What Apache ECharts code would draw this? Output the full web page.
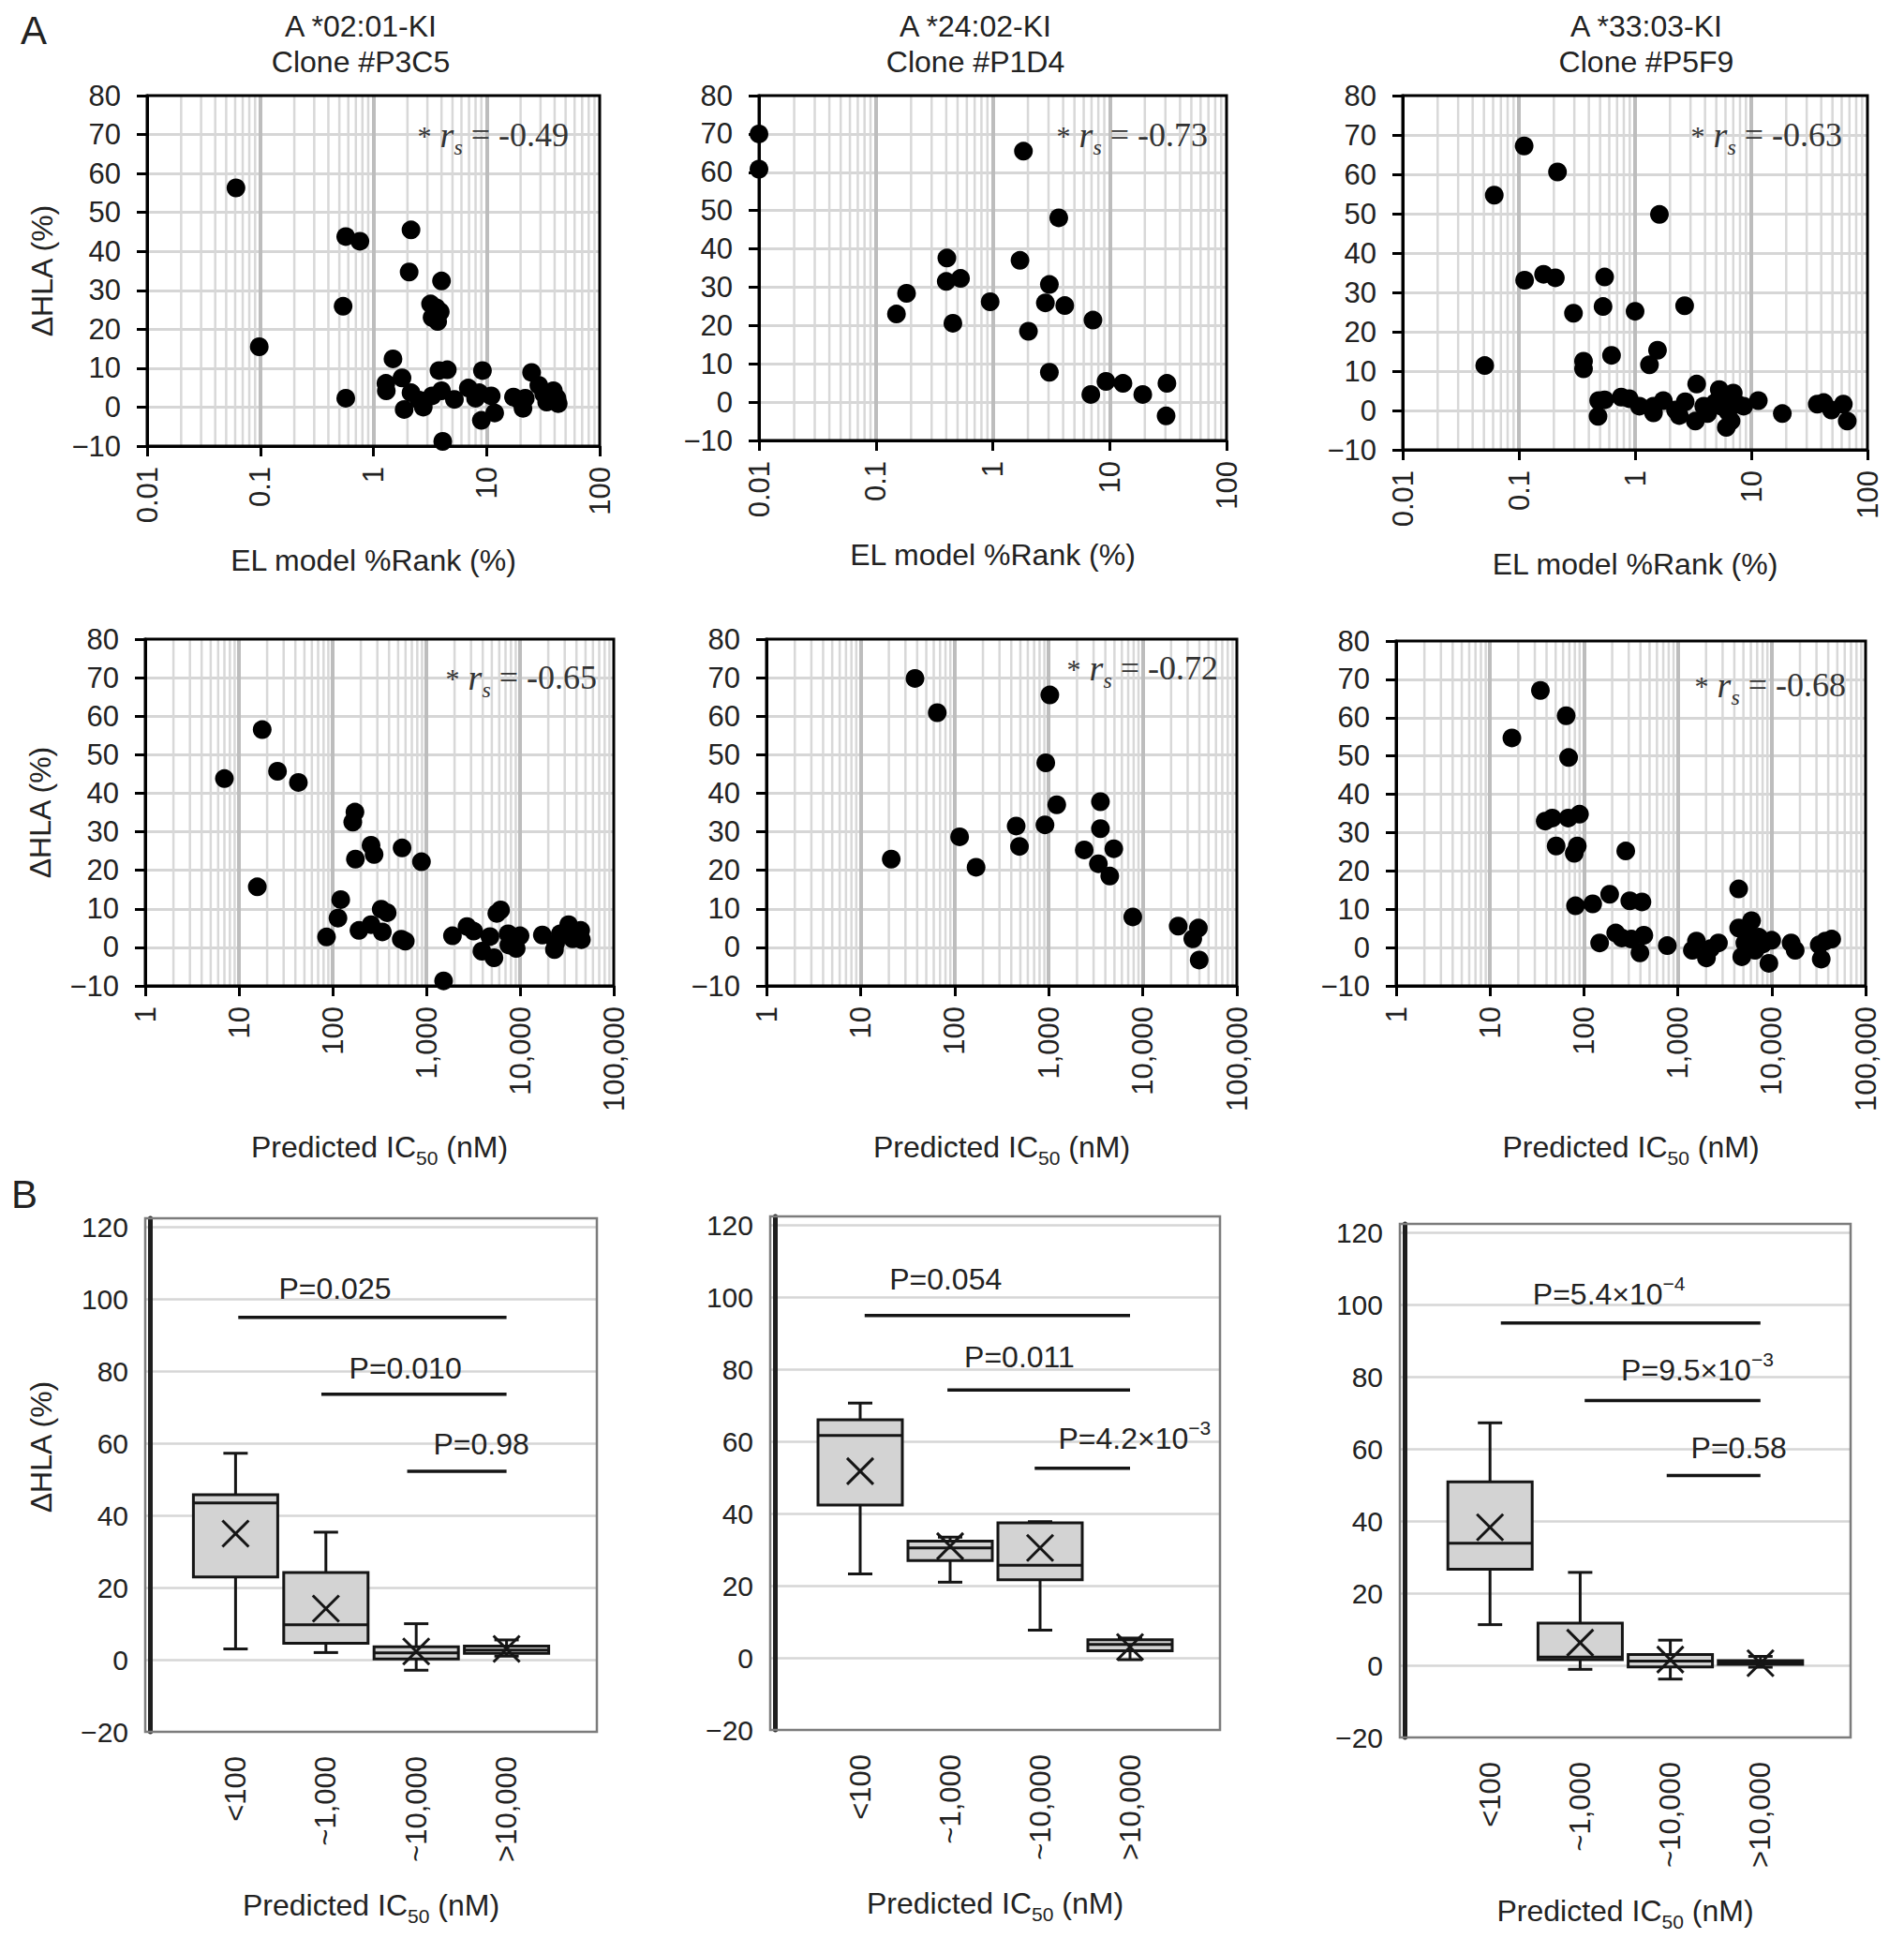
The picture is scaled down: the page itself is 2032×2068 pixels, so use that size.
<!DOCTYPE html>
<html>
<head>
<meta charset="utf-8">
<script src="https://cdn.jsdelivr.net/npm/echarts@6.0.0/dist/echarts.min.js"></script>
<style>
html,body{margin:0;padding:0;background:#ffffff;}
#chart{width:2032px;height:2068px;}
</style>
</head>
<body>
<div id="chart"></div>
<script>
// ================= DATA =================
const alleles = ['A *02:01-KI', 'A *24:02-KI', 'A *33:03-KI'];
const clones = ['Clone #P3C5', 'Clone #P1D4', 'Clone #P5F9'];
const rsElRank = ['-0.49', '-0.73', '-0.63'];
const rsIC50 = ['-0.65', '-0.72', '-0.68'];

const elRankTicksRange = [0.01, 100];
const ic50TicksRange = [1, 100000];

// [EL %Rank, ΔHLA]
const elRankP3C5 = [[0.061,56.3],[0.098,15.5],[0.57,43.8],[0.76,42.6],[0.54,25.9],[0.57,2.3],[2.15,45.5],[2.07,34.7],[4.0,32.4],[3.2,26.5],[3.6,25.5],[3.9,24.5],[3.3,23.0],[3.7,22.0],[1.49,12.4],[1.29,6.1],[1.3,4.2],[1.79,7.5],[1.87,-0.6],[2.15,3.7],[2.54,1.8],[2.76,0.0],[3.3,2.9],[4.0,4.2],[3.8,9.4],[4.5,9.6],[5.2,2.0],[4.1,-8.8],[6.9,4.9],[8.6,3.7],[8.0,2.3],[9.2,9.4],[9.0,-3.4],[11.0,2.9],[11.8,-1.5],[17.3,2.6],[19.5,1.8],[21.0,-0.3],[22.0,2.3],[25.0,8.9],[29.0,5.6],[32.0,3.4],[39.0,4.2],[42.0,2.3],[34.0,1.3],[43.0,0.9]];
const elRankP1D4 = [[0.01,70.0],[0.01,60.8],[1.83,65.5],[3.67,48.1],[1.71,37.0],[0.405,37.6],[0.40,31.5],[0.53,32.3],[0.183,28.4],[0.150,23.0],[0.456,20.6],[0.95,26.2],[3.05,30.7],[2.82,25.9],[4.13,25.2],[2.02,18.5],[3.05,7.8],[7.2,21.4],[6.9,2.0],[9.3,5.4],[13.0,4.9],[19.2,2.0],[30.9,4.9],[30.4,-3.6]];
const elRankP5F9 = [[0.0508,11.4],[0.0614,54.7],[0.111,67.2],[0.112,33.1],[0.163,34.6],[0.206,33.7],[0.215,60.6],[0.295,24.7],[0.36,12.5],[0.36,10.6],[0.547,33.9],[0.53,26.4],[0.627,14.0],[0.486,2.5],[0.547,2.7],[0.48,-1.5],[1.0,25.2],[1.62,49.8],[1.56,15.3],[1.33,11.6],[2.67,26.6],[3.39,6.7],[0.76,3.4],[0.89,3.0],[1.09,1.1],[1.44,1.1],[1.44,-0.6],[1.75,2.5],[2.23,0.1],[2.4,-1.3],[2.7,2.2],[3.3,-2.7],[3.9,1.1],[4.2,-0.8],[5.3,5.3],[5.7,3.4],[5.5,1.1],[6.1,-4.3],[6.7,-2.7],[7.0,4.4],[7.6,1.6],[6.3,-0.3],[8.6,1.1],[11.5,2.5],[18.5,-0.8],[37,1.6],[42,2.0],[49,0.1],[62,1.6],[67,-2.7],[4.9,2.0],[6.1,2.5]];

// [Predicted IC50 (nM), ΔHLA]
const ic50P3C5 = [[7.0,43.8],[17.7,56.5],[15.7,15.7],[25.8,45.7],[43.1,42.8],[173,35.1],[164,32.5],[175,22.9],[257,26.5],[277,24.1],[551,25.8],[887,22.2],[122,12.4],[114,7.6],[86,2.7],[191,4.4],[257,5.9],[339,4.0],[330,9.9],[382,9.0],[540,2.1],[596,1.6],[1528,-8.7],[1900,3.0],[2716,5.4],[3200,4.2],[3917,-1.0],[4775,2.8],[5270,-2.7],[5652,8.8],[6200,9.7],[7460,3.5],[7600,0.6],[9100,-0.3],[10000,3.0],[17300,3.2],[23300,-0.6],[26900,3.5],[33000,5.9],[36500,2.2],[44400,4.4],[45200,2.0],[24000,1.1]];
const ic50P1D4 = [[21.2,22.9],[37.9,69.8],[65.4,60.9],[113,28.7],[169,20.8],[451,31.5],[489,26.2],[1028,65.5],[931,47.9],[913,31.8],[1218,37.0],[2386,25.3],[3548,37.8],[3548,30.8],[3374,21.7],[4456,18.5],[4920,25.6],[7830,7.9],[23800,5.5],[34000,2.2],[39000,5.0],[39800,-3.3]];
const ic50P5F9 = [[17.1,54.7],[34.4,67.1],[64.7,60.5],[68.7,49.6],[38.7,33.0],[46,33.8],[68,33.8],[89.7,34.8],[50.6,26.5],[78.9,24.6],[85,26.5],[81.3,10.9],[124,11.4],[188,13.9],[279,25.2],[308,12.2],[415,11.9],[147,1.2],[218,3.8],[253,2.5],[320,2.2],[435,3.2],[395,-1.4],[773,0.5],[1428,-0.7],[1580,1.7],[2018,-2.7],[2230,-0.3],[2710,1.2],[4450,15.3],[4450,5.1],[4800,-2.4],[5180,1.2],[6100,7.0],[5700,3.6],[6300,0.2],[7300,2.7],[8500,1.5],[9330,-4.1],[10000,1.9],[16100,1.2],[17800,-0.7],[32100,0.7],[33700,-3.0],[37300,1.7],[43600,2.2],[6650,-0.7],[8000,0.9]];

// Box plots: [min, q1, median, q3, max, mean] per category
const boxCategories = ['<100', '~1,000', '~10,000', '>10,000'];
const boxP3C5 = [[3.0,23.0,43.5,45.8,57.3,35.0],[2.0,4.6,9.7,24.2,35.4,14.2],[-2.9,0.2,1.9,3.6,10.0,2.3],[1.0,1.8,2.7,3.8,5.5,3.0]];
const boxP1D4 = [[23.3,42.4,61.7,66.1,70.7,51.8],[21.0,27.0,30.5,32.4,33.5,31.0],[7.7,21.7,25.7,37.5,37.8,30.5],[-0.5,2.0,3.7,5.0,5.5,3.0]];
const boxP5F9 = [[11.3,26.7,33.9,50.9,67.3,38.3],[-1.1,1.6,2.3,11.7,25.8,6.3],[-3.8,-0.4,1.2,3.0,7.0,1.6],[-0.5,0.3,0.7,1.3,2.5,0.6]];
const pValuesP3C5 = ['P=0.025', 'P=0.010', 'P=0.98'];
const pValuesP1D4 = ['P=0.054', 'P=0.011', 'P=4.2×10^-3'];
const pValuesP5F9 = ['P=5.4×10^-4', 'P=9.5×10^-3', 'P=0.58'];

// ================= LAYOUT / STYLE =================
const FONT = '"Liberation Sans", Arial, Helvetica, sans-serif';
const SERIF = '"Liberation Serif", "Times New Roman", serif';
const TXT = '#222222';
const layout = {
  el: [{left:157,top:102,width:483,height:374},{left:810,top:102,width:499,height:368},{left:1497,top:102,width:496,height:378}],
  ic: [{left:155,top:682,width:500,height:370},{left:818,top:682,width:502,height:370},{left:1490,top:684,width:501,height:368}],
  box: [{left:155,top:1300,width:482,height:548},{left:822,top:1298,width:480,height:548},{left:1494,top:1306,width:481,height:548}],
  titleX: [385, 1041, 1757],
  rsEl: [[607,144],[1289,144],[1966,144]],
  rsIc: [[637,723],[1300,713],[1970,731]],
  bars: [
    {starts:[1.03,1.95,2.9], end:4.0, levels:[95,73.7,52.3], tx:[2.1,2.88,3.72], ty:[103,81,59.8]},
    {starts:[1.05,1.97,2.94], end:4.0, levels:[95,74.3,52.6], tx:[1.95,2.77,4.05], ty:[105,83.5,61]},
    {starts:[1.12,2.05,2.96], end:4.0, levels:[95,73.5,52.7], tx:[2.32,3.3,3.76], ty:[103,82,60.3]}
  ]
};

const grids = [], xAxes = [], yAxes = [], series = [], graphics = [];

function minorLogValues(min, max) {
  const out = [];
  for (let d = min; d < max * 0.999; d *= 10) {
    for (let k = 2; k <= 9; k++) out.push(+(d * k).toPrecision(6));
  }
  return out;
}
const minusFmt = v => (v < 0 ? '\u2212' + Math.abs(v) : String(v));
const subName = 'Predicted IC{sub|50} (nM)';
const nameStyle = {
  fontSize: 32, color: TXT, fontFamily: FONT, lineHeight: 44,
  rich: { sub: { fontSize: 21, color: TXT, fontFamily: FONT, verticalAlign: 'bottom', lineHeight: 44 } }
};

function addScatterPanel(g, range, pts, isIC, showYName, xName, xNameGap) {
  const gi = grids.length;
  grids.push(Object.assign({ show: true, borderColor: '#000', borderWidth: 3, backgroundColor: 'transparent', z: 3, outerBoundsMode: 'none', containLabel: false }, g));
  const xi = xAxes.length, yi = yAxes.length;
  xAxes.push({
    gridIndex: gi, type: 'log', logBase: 10, min: range[0], max: range[1],
    axisLine: { show: true, onZero: false, lineStyle: { color: '#000', width: 3 } },
    axisTick: { show: true, length: 11, lineStyle: { color: '#000', width: 3 } },
    minorTick: { show: false },
    axisLabel: {
      rotate: 90, margin: 22, fontSize: 31, color: TXT, fontFamily: FONT,
      formatter: v => isIC ? Math.round(v).toLocaleString('en-US') : String(+(+v).toPrecision(4))
    },
    splitLine: { show: true, showMinLine: false, showMaxLine: false, lineStyle: { color: '#bdbdbd', width: 4 } },
    name: xName, nameLocation: 'middle', nameGap: xNameGap, nameMoveOverlap: false,
    nameTextStyle: nameStyle
  });
  yAxes.push({
    gridIndex: gi, type: 'value', min: -10, max: 80, interval: 10,
    axisLine: { show: true, onZero: false, lineStyle: { color: '#000', width: 3 } },
    axisTick: { show: true, length: 11, lineStyle: { color: '#000', width: 3 } },
    axisLabel: { fontSize: 31, color: TXT, fontFamily: FONT, margin: 28, formatter: minusFmt },
    splitLine: { show: true, showMinLine: false, showMaxLine: false, lineStyle: { color: '#d6d6d6', width: 3 } },
    name: showYName ? '\u0394HLA (%)' : '', nameLocation: 'middle', nameGap: 96, nameRotate: 90, nameMoveOverlap: false,
    nameTextStyle: { fontSize: 32, color: TXT, fontFamily: FONT }
  });
  // minor log gridlines (2..9 within each decade)
  series.push({
    type: 'custom', xAxisIndex: xi, yAxisIndex: yi, silent: true, z: 1,
    data: minorLogValues(range[0], range[1]).map(v => [v, 0]),
    encode: { x: 0, y: 1 },
    renderItem: (params, api) => {
      const p1 = api.coord([api.value(0), -10]);
      const p2 = api.coord([api.value(0), 80]);
      return { type: 'line', shape: { x1: p1[0], y1: p1[1], x2: p2[0], y2: p2[1] }, style: { stroke: '#d8d8d8', lineWidth: 2.5 } };
    }
  });
  series.push({
    type: 'scatter', xAxisIndex: xi, yAxisIndex: yi, data: pts, symbol: 'circle', symbolSize: 20,
    itemStyle: { color: '#000', opacity: 1 }, z: 5, clip: false, silent: true
  });
}

function addBoxPanel(g, stats, pvals, bars, showYName) {
  const gi = grids.length;
  grids.push(Object.assign({ show: true, borderColor: '#7c7c7c', borderWidth: 2.5, backgroundColor: 'transparent', z: 3, outerBoundsMode: 'none', containLabel: false }, g));
  xAxes.push({
    gridIndex: gi, type: 'category', data: [''].concat(boxCategories, ['']), boundaryGap: false,
    axisLine: { show: false }, axisTick: { show: false }, splitLine: { show: false },
    axisLabel: { rotate: 90, interval: 0, margin: 26, fontSize: 31, color: TXT, fontFamily: FONT },
    name: subName, nameLocation: 'middle', nameGap: 163, nameMoveOverlap: false, nameTextStyle: nameStyle
  });
  const xv = xAxes.length;
  xAxes.push({ gridIndex: gi, type: 'value', min: 0, max: 5, show: false });
  const yi = yAxes.length;
  yAxes.push({
    gridIndex: gi, type: 'value', min: -20, max: 122.5, interval: 20, offset: -5,
    axisLine: { show: true, onZero: false, lineStyle: { color: '#1e1e1e', width: 5 } },
    axisTick: { show: false },
    axisLabel: { fontSize: 30, color: TXT, fontFamily: FONT, margin: 23, showMaxLabel: false, formatter: minusFmt },
    splitLine: { show: true, showMinLine: false, showMaxLine: false, lineStyle: { color: '#d6d6d6', width: 2.5 } },
    name: showYName ? '\u0394HLA (%)' : '', nameLocation: 'middle', nameGap: 100, nameRotate: 90, nameMoveOverlap: false,
    nameTextStyle: { fontSize: 32, color: TXT, fontFamily: FONT, padding: [0, 0, 0, 60] }
  });
  // boxes
  series.push({
    type: 'custom', xAxisIndex: xv, yAxisIndex: yi, silent: true, z: 5,
    data: stats.map((s, i) => [i + 1].concat(s)),
    encode: { x: 0, y: [1, 2, 3, 4, 5] },
    renderItem: (params, api) => {
      const x = api.value(0);
      const pMin = api.coord([x, api.value(1)]);
      const pQ1 = api.coord([x, api.value(2)]);
      const pMed = api.coord([x, api.value(3)]);
      const pQ3 = api.coord([x, api.value(4)]);
      const pMax = api.coord([x, api.value(5)]);
      const pMean = api.coord([x, api.value(6)]);
      const cx = pMin[0], hw = 45, cw = 13, xs = 14;
      const st = { stroke: '#151515', lineWidth: 3, fill: null };
      const ln = (x1, y1, x2, y2) => ({ type: 'line', shape: { x1, y1, x2, y2 }, style: st });
      return {
        type: 'group', children: [
          ln(cx, pQ3[1], cx, pMax[1]), ln(cx - cw, pMax[1], cx + cw, pMax[1]),
          ln(cx, pQ1[1], cx, pMin[1]), ln(cx - cw, pMin[1], cx + cw, pMin[1]),
          { type: 'rect', shape: { x: cx - hw, y: pQ3[1], width: 2 * hw, height: Math.max(pQ1[1] - pQ3[1], 1) },
            style: { fill: '#d3d3d3', stroke: '#151515', lineWidth: 3 } },
          ln(cx - hw, pMed[1], cx + hw, pMed[1]),
          ln(cx - xs, pMean[1] - xs, cx + xs, pMean[1] + xs),
          ln(cx - xs, pMean[1] + xs, cx + xs, pMean[1] - xs)
        ]
      };
    }
  });
  // significance bars
  series.push({
    type: 'custom', xAxisIndex: xv, yAxisIndex: yi, silent: true, z: 5,
    data: bars.starts.map((s, i) => [s, bars.end, bars.levels[i]]),
    encode: { x: [0, 1], y: 2 },
    renderItem: (params, api) => {
      const a = api.coord([api.value(0), api.value(2)]);
      const b = api.coord([api.value(1), api.value(2)]);
      return { type: 'line', shape: { x1: a[0], y1: a[1], x2: b[0], y2: b[1] }, style: { stroke: '#151515', lineWidth: 3.5 } };
    }
  });
  // p-value texts
  series.push({
    type: 'custom', xAxisIndex: xv, yAxisIndex: yi, silent: true, z: 6,
    data: pvals.map((t, i) => [bars.tx[i], bars.ty[i], i]),
    encode: { x: 0, y: 1 },
    renderItem: (params, api) => {
      const p = api.coord([api.value(0), api.value(1)]);
      const txt = pvals[api.value(2)].replace(/\^-(\d+)/, '{sup|\u2212$1}');
      return {
        type: 'text', x: p[0], y: p[1],
        style: {
          text: txt, align: 'center', verticalAlign: 'middle', fontSize: 32, fontFamily: FONT, fill: TXT, lineHeight: 44,
          rich: { sup: { fontSize: 21, fontFamily: FONT, fill: TXT, verticalAlign: 'top', lineHeight: 44 } }
        }
      };
    }
  });
}

const elSets = [elRankP3C5, elRankP1D4, elRankP5F9];
const icSets = [ic50P3C5, ic50P1D4, ic50P5F9];
const boxSets = [boxP3C5, boxP1D4, boxP5F9];
const pSets = [pValuesP3C5, pValuesP1D4, pValuesP5F9];

for (let i = 0; i < 3; i++) addScatterPanel(layout.el[i], elRankTicksRange, elSets[i], false, i === 0, 'EL model %Rank (%)', 100);
for (let i = 0; i < 3; i++) addScatterPanel(layout.ic[i], ic50TicksRange, icSets[i], true, i === 0, subName, 150);
for (let i = 0; i < 3; i++) addBoxPanel(layout.box[i], boxSets[i], pSets[i], layout.bars[i], i === 0);

// text annotations
graphics.push({ type: 'text', x: 36, y: 32, style: { text: 'A', fontSize: 42, fontFamily: FONT, fill: TXT, align: 'center', verticalAlign: 'middle' } });
graphics.push({ type: 'text', x: 26, y: 1274, style: { text: 'B', fontSize: 42, fontFamily: FONT, fill: TXT, align: 'center', verticalAlign: 'middle' } });
for (let i = 0; i < 3; i++) {
  graphics.push({ type: 'text', x: layout.titleX[i], y: 47, style: {
    text: alleles[i] + '\n' + clones[i], fontSize: 32, lineHeight: 38, fontFamily: FONT, fill: TXT, align: 'center', verticalAlign: 'middle' } });
}
function rsText(val, pos) {
  return { type: 'text', x: pos[0], y: pos[1], z: 10, style: {
    text: '{st|*} {r|r}{s|s}{e| = ' + val + '}', align: 'right', verticalAlign: 'middle',
    fontFamily: SERIF, fontSize: 36, fill: '#333', lineHeight: 50,
    rich: {
      st: { fontSize: 30, fontFamily: SERIF, fill: '#333', lineHeight: 50, verticalAlign: 'middle' },
      r: { fontSize: 38, fontFamily: SERIF, fontStyle: 'italic', fill: '#333', lineHeight: 50, verticalAlign: 'middle' },
      s: { fontSize: 24, fontFamily: SERIF, fontStyle: 'italic', fill: '#333', lineHeight: 50, verticalAlign: 'bottom' },
      e: { fontSize: 36, fontFamily: SERIF, fill: '#333', lineHeight: 50, verticalAlign: 'middle' }
    } } };
}
for (let i = 0; i < 3; i++) {
  graphics.push(rsText(rsElRank[i], layout.rsEl[i]));
  graphics.push(rsText(rsIC50[i], layout.rsIc[i]));
}

const chart = echarts.init(document.getElementById('chart'), null, { renderer: 'svg', width: 2032, height: 2068 });
chart.setOption({
  backgroundColor: '#ffffff',
  animation: false,
  textStyle: { fontFamily: FONT },
  grid: grids,
  xAxis: xAxes,
  yAxis: yAxes,
  series: series,
  graphic: graphics
});
</script>
</body>
</html>
